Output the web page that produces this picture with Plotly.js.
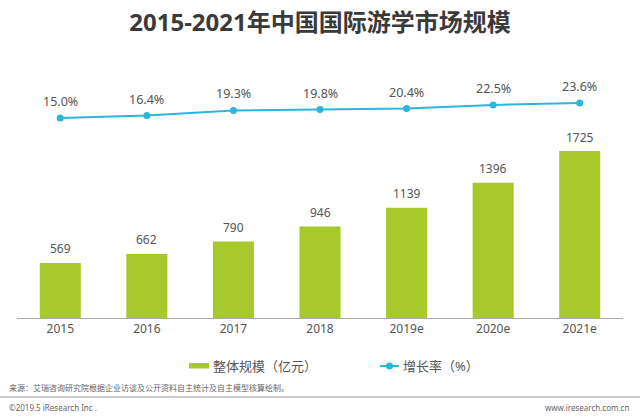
<!DOCTYPE html>
<html><head><meta charset="utf-8">
<script src="https://cdn.plot.ly/plotly-3.0.1.min.js"></script>
<style>html,body{margin:0;padding:0;background:#fff}#c{width:640px;height:418px}</style>
</head><body><div id="c"></div>
<script>
const categories = ['2015','2016','2017','2018','2019e','2020e','2021e'];
const marketSize = [569, 662, 790, 946, 1139, 1396, 1725];
const growthRate = [15.0, 16.4, 19.3, 19.8, 20.4, 22.5, 23.6];
const seriesNames = ['整体规模（亿元）', '增长率（%）'];

const FONT = 'Noto Sans, Noto Sans CJK SC, sans-serif';
const barColor = '#a8c92b';
const lineColor = '#2db6dc';
const textColor = '#555555';

const idx = categories.map((c,i)=>i);

const traces = [
  {type:'bar', x:idx, y:marketSize, name:seriesNames[0], marker:{color:barColor}, hoverinfo:'none', showlegend:false},
  {type:'scatter', mode:'lines+markers', x:idx, y:growthRate, yaxis:'y2', name:seriesNames[1],
   line:{color:lineColor, width:2}, marker:{color:lineColor, size:7}, hoverinfo:'none', showlegend:false}
];

const annotations = [];
idx.forEach(i=>{
  annotations.push({x:i, y:marketSize[i], xref:'x', yref:'y', text:String(marketSize[i]), showarrow:false,
    yanchor:'middle', yshift:14, font:{family:FONT, size:12, color:textColor}});
  annotations.push({x:i, y:growthRate[i], xref:'x', yref:'y2', text:growthRate[i].toFixed(1)+'%', showarrow:false,
    yanchor:'middle', yshift:16.5, font:{family:FONT, size:12.5, color:textColor}});
});
// custom legend texts
annotations.push({xref:'paper', yref:'paper', x:0.3201, y:-0.186, xanchor:'left', yanchor:'middle', showarrow:false,
  text:seriesNames[0], font:{family:FONT, size:13, color:textColor}});
annotations.push({xref:'paper', yref:'paper', x:0.6337, y:-0.186, xanchor:'left', yanchor:'middle', showarrow:false,
  text:seriesNames[1], font:{family:FONT, size:13, color:textColor}});
// footer
annotations.push({xref:'paper', yref:'paper', x:-0.016, y:-0.2713, xanchor:'left', yanchor:'middle', showarrow:false,
  text:'来源：艾瑞咨询研究院根据企业访谈及公开资料自主统计及自主模型核算绘制。', font:{family:FONT, size:8, color:'#666'}});
annotations.push({xref:'paper', yref:'paper', x:-0.016, y:-0.345, xanchor:'left', yanchor:'middle', showarrow:false,
  text:'©2019.5 iResearch Inc .', font:{family:FONT, size:8, color:'#666'}});
annotations.push({xref:'paper', yref:'paper', x:1.014, y:-0.345, xanchor:'right', yanchor:'middle', showarrow:false,
  text:'www.iresearch.com.cn', font:{family:FONT, size:8, color:'#666'}});

const layout = {
  width:640, height:418,
  margin:{l:17, r:17, t:60, b:100},
  paper_bgcolor:'#fff', plot_bgcolor:'#fff',
  title:{text:'<b>2015-2021年中国国际游学市场规模</b>', x:0.5, xanchor:'center', xref:'paper',
    y:1-22.5/418, yanchor:'middle', font:{family:FONT, size:24, color:'#3a3a3a'}},
  bargap:0.526,
  showlegend:false,
  xaxis:{range:[-0.5, categories.length-0.5], tickmode:'array', tickvals:idx, ticktext:categories,
    showline:true, linecolor:'#aaaaaa', linewidth:1, ticks:'', showgrid:false,
    tickfont:{family:FONT, size:12, color:textColor}, zeroline:false},
  yaxis:{range:[0,2665], visible:false, showgrid:false, zeroline:false},
  yaxis2:{range:[-99.9,48.3], overlaying:'y', side:'right', visible:false, showgrid:false, zeroline:false},
  annotations:annotations,
  shapes:[
    {type:'rect', xref:'paper', yref:'paper', x0:0.2838, x1:0.3168, y0:-0.1957, y1:-0.1744,
      fillcolor:barColor, line:{width:0}},
    {type:'line', xref:'paper', yref:'paper', x0:0.599, x1:0.630, y0:-0.186, y1:-0.186,
      line:{color:lineColor, width:2}},
    {type:'circle', xref:'paper', yref:'paper', x0:0.6147-0.0058, x1:0.6147+0.0058, y0:-0.186-0.0136, y1:-0.186+0.0136,
      fillcolor:lineColor, line:{width:0}},
    {type:'line', xref:'paper', yref:'paper', x0:-0.028, x1:1.03, y0:-0.3062, y1:-0.3062,
      line:{color:'#999', width:1}}
  ]
};
Plotly.newPlot('c', traces, layout, {displayModeBar:false, staticPlot:true});
</script></body></html>
